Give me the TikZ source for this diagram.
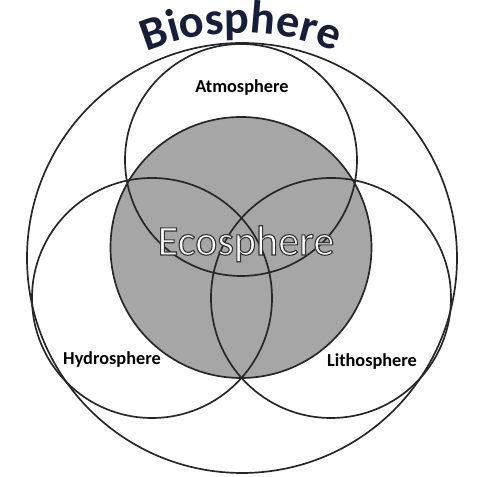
\documentclass[tikz,border=0pt]{standalone}
\usepackage{fontspec}
\usetikzlibrary{decorations.text}
\newfontfamily\calib{Carlito}
\definecolor{biotext}{RGB}{22,30,58}
\definecolor{ecogray}{RGB}{166,166,166}
% white letters with a dark rim
\newcommand{\rimtext}[1]{{\color{white}\special{pdf:code q 2 Tr 0.8 w 0.2 0.2 0.2 RG}#1\special{pdf:code Q}}}

\begin{document}
\begin{tikzpicture}[x=0.025cm,y=0.025cm,
  ring/.style={line width=1.2pt,draw=black!85},
  spherename/.style={font=\calib\bfseries\fontsize{13}{15}\selectfont,anchor=base}]
\useasboundingbox (0,0) rectangle (483,477);
% ecosphere disc
\fill[ecogray] (241,229.5) circle (130.5);
% the spheres
\draw[ring] (242,219) circle (215);
\draw[ring] (241,317) circle (116);
\draw[ring] (152,179) circle (120);
\draw[ring] (331,179) circle (120);
\draw[ring] (241,229.5) circle (130.5);
% names
\node[spherename] (atmo) at (242,384) {Atmosphere};
\node[spherename] (hydro) at (112,112) {Hydrosphere};
\node[spherename] (litho) at (372,110) {Lithosphere};
\node[anchor=base,font=\calib\fontsize{30}{32}\selectfont] (eco) at (246,222)
  {\rimtext{Ecosphere}};
% arched title
\path[decorate,decoration={text along path,text align=center,text color=biotext,
  text={|\calib\bfseries\fontsize{33}{35}\selectfont|Biosphere}}]
  (241,194) ++(130:250) arc[start angle=130,end angle=50,radius=250];
\end{tikzpicture}
\end{document}
